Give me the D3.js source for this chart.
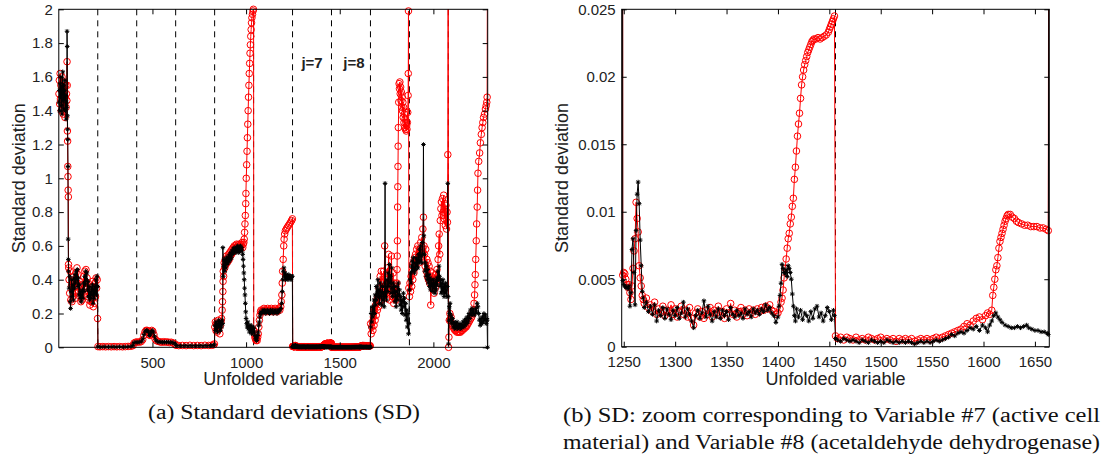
<!DOCTYPE html>
<meta charset="utf-8">
<style>
    body { margin: 0; background: #fff; }
    text { font-family: "Liberation Sans", Arial, Helvetica, sans-serif; fill: #222; }
    .tick text { font-size: 15px; fill: #222; }
    .tick line { stroke: #000; }
    .caption { font-family: "Liberation Serif", "Times New Roman", serif; font-size: 20px; fill: #111; }
</style>
<body>
<svg width="1105" height="460"></svg>
</body>
<script src="https://cdn.jsdelivr.net/npm/d3@7"></script>
<script>

    // variable boundaries (208 samples per variable)
    var boundaries = [208, 416, 624, 832, 1040, 1248, 1456, 1664, 1872, 2080];
    var varLabels = ["j=7", "j=8"];
    var leftXTicks = [500, 1000, 1500, 2000];
    var leftYTicks = [0, 0.2, 0.4, 0.6, 0.8, 1, 1.2, 1.4, 1.6, 1.8, 2];
    var rightXTicks = [1250, 1300, 1350, 1400, 1450, 1500, 1550, 1600, 1650];
    var rightYTicks = [0, 0.005, 0.01, 0.015, 0.02, 0.025];
    var captionA = "(a) Standard deviations (SD)";
    var captionB = ["(b) SD: zoom corresponding to Variable #7 (active cell",
                    "material) and Variable #8 (acetaldehyde dehydrogenase)"];

    // red circles series: [unfolded variable, SD]
    var sdRed = [
        // var 1
        [1,1.50],[3,1.58],[5,1.44],[7,1.62],[9,1.47],[11,1.55],[13,1.40],[15,1.52],[17,1.60],[19,1.45],[21,1.53],[23,1.38],
        [25,1.49],[27,1.57],[29,1.43],[31,1.51],[33,1.36],[35,1.48],[37,1.55],[39,1.42],[41,1.50],[43,1.46],
        [44,1.69],[45,1.55],[46,1.28],[47,1.22],[48,1.07],[49,1.01],[50,0.93],[51,0.89],[52,0.49],[53,0.47],
        [55,0.40],[58,0.32],[61,0.45],[64,0.28],[67,0.36],[70,0.27],[73,0.38],[76,0.30],[79,0.42],[82,0.33],[85,0.40],
        [88,0.29],[91,0.44],[94,0.36],[97,0.47],[100,0.38],[103,0.43],[106,0.33],[109,0.39],[112,0.30],[115,0.35],
        [118,0.27],[121,0.32],[124,0.28],[127,0.37],[130,0.31],[133,0.42],[136,0.35],[139,0.45],[142,0.38],[145,0.46],
        [148,0.36],[151,0.41],[154,0.30],[157,0.38],[160,0.28],[163,0.34],[166,0.25],[169,0.31],[172,0.27],[175,0.36],
        [178,0.29],[181,0.39],[184,0.24],[187,0.33],[190,0.26],[193,0.38],[196,0.30],[199,0.41],[202,0.35],[205,0.40],[207,0.17],
        // var 2-4
        [209,0.004],[220,0.003],[235,0.004],[250,0.003],[265,0.004],[280,0.003],[295,0.004],[310,0.003],[325,0.004],
        [340,0.003],[355,0.004],[370,0.005],[385,0.006],[396,0.010],[402,0.025],[410,0.030],[420,0.032],[430,0.030],
        [440,0.034],[448,0.045],[454,0.070],[460,0.090],[466,0.100],[472,0.100],[478,0.095],[483,0.075],[487,0.070],
        [491,0.085],[496,0.100],[502,0.095],[508,0.075],[514,0.050],[520,0.040],[530,0.035],[540,0.032],[550,0.030],
        [560,0.033],[570,0.030],[580,0.032],[590,0.028],[600,0.030],[610,0.026],[620,0.020],[626,0.012],[640,0.010],
        [660,0.011],[680,0.010],[700,0.012],[720,0.010],[740,0.011],[760,0.010],[780,0.012],[800,0.011],[815,0.012],
        [825,0.014],[831,0.020],
        // var 5
        [833,0.12],[836,0.15],[839,0.10],[842,0.14],[845,0.09],[848,0.13],[851,0.16],[854,0.11],[857,0.14],[860,0.08],
        [863,0.13],[866,0.15],[869,0.17],[872,0.22],[874,0.27],[876,0.33],[877,0.39],[878,0.45],[880,0.42],[883,0.50],
        [886,0.47],[889,0.52],[892,0.49],[895,0.54],[898,0.50],[901,0.53],[904,0.51],[907,0.55],[910,0.52],[913,0.56],
        [916,0.54],[919,0.57],[922,0.55],[925,0.58],[928,0.56],[931,0.59],[934,0.57],[937,0.60],[940,0.58],[943,0.60],
        [946,0.59],[949,0.61],[952,0.58],[955,0.60],[958,0.59],[961,0.61],[964,0.58],[967,0.60],[970,0.59],[973,0.61],
        [976,0.60],[979,0.62],[982,0.59],[985,0.61],[988,0.62],[990,0.64],[992,0.68],[994,0.73],[996,0.78],[998,0.85],
        [999,0.91],[1001,1.00],[1003,1.08],[1005,1.16],[1007,1.24],[1009,1.32],[1011,1.40],[1013,1.48],[1015,1.55],
        [1017,1.62],[1019,1.68],[1021,1.74],[1023,1.79],[1025,1.84],[1027,1.88],[1029,1.92],[1031,1.95],[1034,1.97],
        [1037,1.99],[1039,2.00],[1040,2.05],
        // var 6
        [1041,0.10],[1044,0.08],[1047,0.06],[1050,0.05],[1053,0.04],[1056,0.05],[1059,0.04],[1062,0.06],[1065,0.08],
        [1068,0.12],[1071,0.16],[1074,0.19],[1077,0.21],[1080,0.22],[1085,0.21],[1090,0.22],[1095,0.23],[1100,0.22],
        [1105,0.21],[1110,0.22],[1115,0.23],[1120,0.22],[1125,0.21],[1130,0.22],[1135,0.23],[1140,0.22],[1145,0.21],
        [1150,0.22],[1155,0.23],[1160,0.22],[1165,0.21],[1170,0.22],[1175,0.23],[1180,0.22],[1185,0.24],[1188,0.27],
        [1191,0.31],[1193,0.38],[1195,0.45],[1198,0.52],[1201,0.60],[1203,0.64],[1206,0.67],[1210,0.69],[1215,0.70],
        [1220,0.71],[1226,0.72],[1232,0.73],[1238,0.74],[1243,0.75],[1247,0.76],
        // var 7
        [1249,0.0053],[1250,0.0055],[1251,0.0054],[1252,0.0050],[1253,0.0046],[1254,0.0044],[1255,0.0046],[1256,0.0040],
        [1257,0.0035],[1258,0.0045],[1259,0.0058],[1260,0.0071],[1261,0.0080],[1262,0.0107],[1263,0.0095],[1264,0.0085],
        [1265,0.0060],[1266,0.0051],[1267,0.0045],[1268,0.0038],[1269,0.0035],[1270,0.0032],[1272,0.0036],[1274,0.0029],
        [1276,0.0031],[1278,0.0026],[1280,0.0033],[1282,0.0024],[1284,0.0028],[1286,0.0025],[1288,0.0030],[1290,0.0023],
        [1292,0.0027],[1294,0.0025],[1296,0.0031],[1298,0.0024],[1300,0.0028],[1302,0.0022],[1304,0.0026],[1306,0.0030],
        [1308,0.0024],[1310,0.0027],[1312,0.0022],[1314,0.0029],[1316,0.0021],[1318,0.0016],[1320,0.0025],[1322,0.0028],
        [1324,0.0022],[1326,0.0026],[1328,0.0021],[1330,0.0027],[1332,0.0024],[1334,0.0029],[1336,0.0022],[1338,0.0027],
        [1340,0.0025],[1342,0.0030],[1344,0.0023],[1346,0.0026],[1348,0.0021],[1350,0.0028],[1352,0.0025],[1354,0.0032],
        [1356,0.0024],[1358,0.0027],[1360,0.0022],[1362,0.0026],[1364,0.0029],[1366,0.0024],[1368,0.0027],[1370,0.0023],
        [1372,0.0028],[1374,0.0025],[1376,0.0027],[1378,0.0024],[1380,0.0028],[1382,0.0026],[1384,0.0029],[1386,0.0027],
        [1388,0.0030],[1390,0.0028],[1392,0.0031],[1394,0.0027],[1396,0.0026],[1398,0.0024],[1400,0.0025],[1402,0.0028],
        [1403,0.0033],[1404,0.0036],[1405,0.0042],[1406,0.0051],[1407,0.0058],[1408,0.0065],[1409,0.0073],[1410,0.0080],
        [1411,0.0084],[1412,0.0091],[1413,0.0096],[1414,0.0104],[1415,0.0110],[1416,0.0124],[1417,0.0133],[1418,0.0145],
        [1419,0.0156],[1420,0.0165],[1421,0.0173],[1422,0.0184],[1423,0.0194],[1424,0.0200],[1425,0.0205],[1426,0.0209],
        [1427,0.0212],[1428,0.0215],[1429,0.0218],[1430,0.0220],[1431,0.0222],[1432,0.0224],[1433,0.0226],[1434,0.0227],
        [1435,0.0228],[1437,0.0228],[1439,0.0229],[1441,0.0228],[1443,0.0229],[1445,0.0230],[1447,0.0231],[1449,0.0233],
        [1450,0.0235],[1451,0.0237],[1452,0.0239],[1453,0.0241],[1454,0.0243],[1455,0.0245],
        // var 8
        [1456,0.0008],[1458,0.0006],[1461,0.0007],[1464,0.0005],[1467,0.0007],[1470,0.0006],[1473,0.0005],[1476,0.0007],
        [1479,0.0005],[1482,0.0006],[1485,0.0005],[1488,0.0007],[1491,0.0006],[1494,0.0005],[1497,0.0006],[1500,0.0007],
        [1503,0.0005],[1506,0.0006],[1509,0.0005],[1512,0.0006],[1515,0.0004],[1518,0.0006],[1521,0.0005],[1524,0.0006],
        [1527,0.0005],[1530,0.0006],[1533,0.0004],[1536,0.0005],[1539,0.0006],[1542,0.0005],[1545,0.0006],[1548,0.0005],
        [1551,0.0006],[1554,0.0007],[1557,0.0006],[1560,0.0007],[1563,0.0008],[1566,0.0009],[1569,0.0010],[1572,0.0011],
        [1575,0.0012],[1578,0.0013],[1581,0.0015],[1584,0.0017],[1587,0.0016],[1590,0.0019],[1593,0.0021],[1596,0.0022],
        [1599,0.0020],[1602,0.0023],[1604,0.0025],[1606,0.0024],[1608,0.0027],[1609,0.0038],[1610,0.0044],[1611,0.0050],
        [1612,0.0057],[1613,0.0060],[1614,0.0066],[1615,0.0073],[1616,0.0078],[1617,0.0081],[1618,0.0084],[1619,0.0087],
        [1620,0.0090],[1621,0.0093],[1622,0.0095],[1623,0.0097],[1624,0.0098],[1626,0.0098],[1628,0.0096],[1630,0.0095],
        [1632,0.0093],[1634,0.0092],[1637,0.0091],[1640,0.0090],[1643,0.0090],[1646,0.0089],[1649,0.0089],[1652,0.0089],
        [1655,0.0088],[1658,0.0088],[1661,0.0087],[1663,0.0086],
        // var 9
        [1665,0.14],[1668,0.08],[1671,0.12],[1674,0.15],[1677,0.10],[1680,0.18],[1683,0.13],[1686,0.22],[1689,0.16],
        [1692,0.25],[1695,0.19],[1698,0.28],[1701,0.22],[1704,0.30],[1707,0.24],[1710,0.35],[1713,0.27],[1716,0.42],
        [1719,0.32],[1722,0.45],[1725,0.28],[1728,0.38],[1731,0.30],[1734,0.45],[1737,0.36],[1740,0.60],[1743,0.41],
        [1746,0.33],[1749,0.40],[1752,0.29],[1755,0.47],[1758,0.35],[1761,0.55],[1764,0.38],[1767,0.28],[1770,0.42],
        [1773,0.32],[1776,0.54],[1779,0.38],[1782,0.30],[1785,0.44],[1788,0.26],[1791,0.38],[1794,0.30],[1797,0.36],
        [1800,0.28],[1803,0.33],[1805,0.38],[1806,0.46],[1807,0.54],[1808,0.63],[1809,0.83],[1810,0.95],[1811,1.07],
        [1812,1.19],[1813,1.30],[1815,1.45],[1817,1.56],[1819,1.53],[1821,1.57],[1823,1.50],[1825,1.54],[1827,1.46],
        [1829,1.51],[1831,1.42],[1833,1.48],[1835,1.40],[1837,1.45],[1839,1.36],[1841,1.42],[1843,1.33],[1845,1.38],
        [1847,1.30],[1849,1.35],[1851,1.29],[1853,1.33],[1855,1.28],[1857,1.31],[1859,1.29],[1861,1.33],[1863,1.39],
        [1865,1.49],[1866,1.62],[1867,1.99],[1869,0.35],
        // var 10
        [1872,0.30],[1875,0.38],[1878,0.33],[1881,0.42],[1884,0.36],[1887,0.45],[1890,0.40],[1893,0.50],[1896,0.44],
        [1899,0.53],[1902,0.47],[1905,0.55],[1908,0.50],[1911,0.58],[1914,0.52],[1917,0.60],[1920,0.55],[1923,0.50],
        [1926,0.58],[1929,0.53],[1932,0.62],[1935,0.56],[1938,0.65],[1941,0.59],[1944,0.70],[1947,0.77],[1950,0.60],
        [1953,0.55],[1956,0.48],[1959,0.58],[1962,0.45],[1965,0.52],[1968,0.42],[1971,0.50],[1974,0.40],[1977,0.48],
        [1980,0.38],[1983,0.45],[1986,0.25],[1989,0.42],[1992,0.36],[1995,0.44],[1998,0.34],[2001,0.41],[2004,0.32],
        [2007,0.40],[2010,0.35],[2013,0.43],[2016,0.38],[2019,0.46],[2022,0.40],[2025,0.52],[2028,0.60],[2031,0.67],
        [2034,0.55],[2037,0.75],[2040,0.82],[2043,0.86],[2046,0.78],[2049,0.88],[2052,0.80],[2055,0.90],[2058,0.76],
        [2061,0.85],[2064,0.72],[2067,0.84],[2070,0.70],[2073,0.80],[2075,0.74],[2077,1.14],[2079,2.60],
        // var 11
        [2081,0.00],[2083,0.06],[2085,0.16],[2088,0.20],[2091,0.16],[2094,0.18],[2097,0.14],[2100,0.13],[2105,0.12],
        [2110,0.11],[2115,0.10],[2120,0.10],[2125,0.09],[2130,0.09],[2135,0.09],[2140,0.09],[2145,0.09],[2150,0.10],
        [2155,0.10],[2160,0.11],[2165,0.11],[2170,0.12],[2175,0.12],[2180,0.13],[2185,0.14],[2190,0.15],[2195,0.16],
        [2200,0.17],[2205,0.18],[2210,0.20],[2214,0.22],[2217,0.26],[2220,0.31],[2222,0.37],[2224,0.43],[2226,0.52],
        [2229,0.63],[2231,0.73],[2234,0.83],[2236,0.93],[2238,1.03],[2242,1.10],[2247,1.15],[2251,1.21],[2256,1.26],
        [2260,1.30],[2264,1.33],[2268,1.36],[2273,1.38],[2278,1.41],[2282,1.43],[2285,1.45],[2287,1.48],[2289,2.60]
    ];

    // black stars series: [unfolded variable, SD]
    var sdBlack = [
        // var 1
        [1,1.45],[3,1.52],[5,1.40],[7,1.56],[9,1.48],[11,1.60],[13,1.43],[15,1.54],[17,1.38],[19,1.50],[21,1.63],[23,1.46],
        [25,1.55],[27,1.41],[29,1.52],[31,1.47],[33,1.58],[35,1.40],[37,1.49],[39,1.35],[41,1.45],[43,1.42],
        [44,1.87],[45,1.78],[46,1.37],[47,1.29],[48,1.23],[49,1.07],[50,0.64],[51,0.52],[52,0.45],
        [55,0.35],[58,0.42],[61,0.27],[63,0.23],[66,0.33],[69,0.40],[72,0.30],[75,0.37],[78,0.28],[81,0.41],[84,0.35],
        [87,0.43],[90,0.38],[93,0.45],[96,0.40],[99,0.46],[102,0.36],[105,0.41],[108,0.31],[111,0.37],[114,0.29],
        [117,0.33],[120,0.27],[123,0.31],[126,0.34],[129,0.29],[132,0.38],[135,0.33],[138,0.42],[141,0.37],[144,0.45],
        [147,0.40],[150,0.44],[153,0.34],[156,0.39],[159,0.30],[162,0.36],[165,0.28],[168,0.33],[171,0.29],[174,0.35],
        [177,0.31],[180,0.37],[183,0.26],[186,0.34],[189,0.29],[192,0.36],[195,0.32],[198,0.40],[201,0.31],[204,0.42],[207,0.36],
        // var 2-4
        [209,0.003],[225,0.002],[245,0.003],[265,0.002],[285,0.003],[305,0.002],[325,0.003],[345,0.002],[365,0.003],
        [385,0.005],[396,0.012],[402,0.028],[412,0.030],[422,0.029],[432,0.031],[442,0.036],[449,0.050],[455,0.075],
        [461,0.095],[467,0.100],[473,0.098],[479,0.090],[484,0.070],[488,0.075],[493,0.090],[499,0.100],[505,0.090],
        [511,0.065],[517,0.045],[525,0.035],[535,0.030],[545,0.032],[555,0.029],[565,0.031],[575,0.030],[585,0.031],
        [595,0.028],[605,0.029],[615,0.025],[623,0.018],[630,0.010],[650,0.009],[670,0.010],[690,0.009],[710,0.010],
        [730,0.009],[750,0.010],[770,0.009],[790,0.010],[810,0.011],[825,0.012],[831,0.015],
        // var 5
        [833,0.13],[836,0.10],[839,0.15],[842,0.11],[845,0.14],[848,0.09],[851,0.13],[854,0.16],[857,0.12],[860,0.15],
        [863,0.10],[866,0.14],[869,0.12],[872,0.16],[875,0.14],[876,0.59],[878,0.42],[880,0.48],[883,0.52],[886,0.45],
        [889,0.51],[892,0.47],[895,0.53],[898,0.49],[901,0.52],[904,0.50],[907,0.54],[910,0.51],[913,0.55],[916,0.52],
        [919,0.56],[922,0.53],[925,0.57],[928,0.55],[931,0.58],[934,0.56],[937,0.59],[940,0.57],[943,0.58],[946,0.56],
        [949,0.59],[952,0.57],[955,0.60],[958,0.58],[961,0.56],[964,0.59],[967,0.57],[970,0.60],[973,0.58],[976,0.59],
        [979,0.57],[982,0.55],[984,0.52],[986,0.48],[988,0.44],[990,0.40],[992,0.35],[994,0.31],[996,0.26],[998,0.21],
        [1000,0.17],[1003,0.14],[1006,0.12],[1009,0.15],[1012,0.11],[1015,0.13],[1018,0.09],[1021,0.12],[1024,0.10],
        [1027,0.13],[1030,0.08],[1033,0.11],[1036,0.09],[1039,0.12],
        // var 6
        [1041,0.11],[1044,0.09],[1047,0.07],[1050,0.05],[1053,0.06],[1056,0.04],[1059,0.05],[1062,0.07],[1065,0.09],
        [1068,0.13],[1071,0.15],[1074,0.18],[1077,0.20],[1080,0.21],[1085,0.20],[1090,0.22],[1095,0.21],[1100,0.22],
        [1105,0.20],[1110,0.21],[1115,0.22],[1120,0.21],[1125,0.20],[1130,0.22],[1135,0.21],[1140,0.22],[1145,0.20],
        [1150,0.21],[1155,0.22],[1160,0.21],[1165,0.20],[1170,0.22],[1175,0.21],[1180,0.22],[1185,0.23],[1190,0.26],
        [1193,0.33],[1196,0.40],[1199,0.45],[1202,0.47],[1205,0.42],[1208,0.44],[1211,0.40],[1214,0.43],[1217,0.41],
        [1220,0.42],[1224,0.40],[1228,0.43],[1232,0.41],[1236,0.42],[1240,0.40],[1244,0.42],[1247,0.42],
        // var 7
        [1249,0.0049],[1250,0.0046],[1251,0.0045],[1252,0.0044],[1253,0.0044],[1254,0.0043],[1255,0.0045],[1256,0.0030],
        [1257,0.0040],[1258,0.0072],[1259,0.0080],[1260,0.0055],[1261,0.0031],[1262,0.0086],[1263,0.0113],[1264,0.0122],
        [1265,0.0106],[1266,0.0079],[1267,0.0060],[1268,0.0041],[1269,0.0036],[1270,0.0029],[1272,0.0033],[1274,0.0026],
        [1276,0.0030],[1278,0.0024],[1280,0.0031],[1282,0.0019],[1284,0.0027],[1286,0.0023],[1288,0.0029],[1290,0.0021],
        [1292,0.0028],[1294,0.0024],[1296,0.0020],[1298,0.0027],[1300,0.0023],[1302,0.0029],[1304,0.0021],[1306,0.0025],
        [1308,0.0033],[1310,0.0022],[1312,0.0028],[1314,0.0024],[1316,0.0019],[1318,0.0014],[1320,0.0023],[1322,0.0027],
        [1324,0.0021],[1326,0.0025],[1328,0.0034],[1330,0.0022],[1332,0.0030],[1334,0.0024],[1336,0.0019],[1338,0.0026],
        [1340,0.0022],[1342,0.0028],[1344,0.0021],[1346,0.0027],[1348,0.0023],[1350,0.0026],[1352,0.0020],[1354,0.0029],
        [1356,0.0024],[1358,0.0022],[1360,0.0027],[1362,0.0023],[1364,0.0025],[1366,0.0021],[1368,0.0028],[1370,0.0024],
        [1372,0.0026],[1374,0.0022],[1376,0.0028],[1378,0.0025],[1380,0.0027],[1382,0.0024],[1384,0.0028],[1386,0.0026],
        [1388,0.0031],[1390,0.0027],[1392,0.0029],[1394,0.0025],[1396,0.0023],[1398,0.0018],[1400,0.0022],[1401,0.0030],
        [1402,0.0038],[1403,0.0047],[1404,0.0061],[1405,0.0058],[1406,0.0055],[1407,0.0054],[1408,0.0057],[1409,0.0052],
        [1410,0.0060],[1411,0.0058],[1412,0.0055],[1413,0.0050],[1414,0.0039],[1415,0.0030],[1416,0.0023],[1417,0.0019],
        [1418,0.0028],[1420,0.0022],[1422,0.0027],[1424,0.0020],[1426,0.0025],[1428,0.0023],[1430,0.0019],[1432,0.0026],
        [1434,0.0021],[1436,0.0028],[1438,0.0030],[1440,0.0022],[1442,0.0025],[1444,0.0019],[1446,0.0023],[1448,0.0029],
        [1450,0.0026],[1452,0.0020],[1454,0.0027],[1455,0.0023],
        // var 8
        [1456,0.0006],[1458,0.0005],[1461,0.0004],[1464,0.0006],[1467,0.0005],[1470,0.0004],[1473,0.0005],[1476,0.0004],
        [1479,0.0003],[1482,0.0005],[1485,0.0004],[1488,0.0003],[1491,0.0005],[1494,0.0004],[1497,0.0003],[1500,0.0004],
        [1503,0.0003],[1506,0.0005],[1509,0.0004],[1512,0.0003],[1515,0.0004],[1518,0.0003],[1521,0.0004],[1524,0.0003],
        [1527,0.0004],[1530,0.0003],[1533,0.0002],[1536,0.0003],[1539,0.0004],[1542,0.0003],[1545,0.0004],[1548,0.0003],
        [1551,0.0004],[1554,0.0005],[1557,0.0004],[1560,0.0005],[1563,0.0006],[1566,0.0007],[1569,0.0009],[1572,0.0008],
        [1575,0.0010],[1578,0.0011],[1581,0.0010],[1584,0.0012],[1587,0.0014],[1590,0.0013],[1593,0.0015],[1596,0.0012],
        [1599,0.0016],[1602,0.0014],[1604,0.0011],[1606,0.0016],[1608,0.0019],[1610,0.0023],[1612,0.0025],[1614,0.0022],
        [1616,0.0020],[1618,0.0018],[1621,0.0016],[1624,0.0015],[1627,0.0014],[1630,0.0014],[1633,0.0015],[1636,0.0014],
        [1639,0.0015],[1642,0.0016],[1644,0.0014],[1647,0.0013],[1650,0.0012],[1653,0.0012],[1656,0.0011],[1659,0.0011],
        [1662,0.0010],[1663,0.0009],
        // var 9
        [1665,0.12],[1668,0.20],[1671,0.15],[1674,0.24],[1677,0.18],[1680,0.22],[1683,0.28],[1686,0.20],[1689,0.31],
        [1692,0.25],[1695,0.36],[1698,0.28],[1701,0.32],[1704,0.40],[1707,0.30],[1710,0.34],[1713,0.26],[1716,0.38],
        [1719,0.30],[1722,0.33],[1725,0.25],[1728,0.36],[1731,0.28],[1734,0.32],[1737,0.24],[1740,0.38],[1742,0.97],
        [1744,0.30],[1747,0.36],[1750,0.28],[1753,0.40],[1756,0.33],[1759,0.44],[1762,0.36],[1765,0.49],[1768,0.38],
        [1771,0.42],[1774,0.32],[1777,0.47],[1780,0.35],[1783,0.30],[1786,0.38],[1789,0.32],[1792,0.36],[1795,0.27],
        [1798,0.33],[1801,0.24],[1804,0.30],[1807,0.36],[1810,0.28],[1813,0.38],[1816,0.31],[1819,0.34],[1822,0.25],
        [1825,0.30],[1828,0.22],[1831,0.28],[1834,0.20],[1837,0.27],[1840,0.32],[1843,0.24],[1846,0.29],[1849,0.19],
        [1852,0.26],[1855,0.16],[1858,0.22],[1861,0.12],[1864,0.20],[1867,0.08],[1869,0.14],
        // var 10
        [1872,0.34],[1875,0.40],[1878,0.44],[1881,0.38],[1884,0.48],[1887,0.51],[1890,0.45],[1893,0.53],[1896,0.47],
        [1899,0.44],[1902,0.50],[1905,0.46],[1908,0.53],[1911,0.48],[1914,0.52],[1917,0.47],[1920,0.55],[1923,0.50],
        [1926,0.58],[1929,0.51],[1932,0.60],[1935,0.54],[1938,0.50],[1941,0.62],[1944,0.55],[1947,1.20],[1949,0.66],
        [1952,0.55],[1955,0.45],[1958,0.50],[1961,0.42],[1964,0.48],[1967,0.40],[1970,0.46],[1973,0.38],[1976,0.43],
        [1979,0.36],[1982,0.41],[1985,0.34],[1988,0.40],[1991,0.36],[1994,0.38],[1997,0.33],[2000,0.40],[2003,0.35],
        [2006,0.37],[2009,0.32],[2012,0.39],[2015,0.34],[2018,0.41],[2021,0.37],[2024,0.45],[2027,0.40],[2030,0.48],
        [2033,0.42],[2036,0.36],[2039,0.40],[2042,0.32],[2045,0.38],[2048,0.33],[2051,0.40],[2054,0.35],[2057,0.30],
        [2060,0.37],[2063,0.32],[2066,0.38],[2069,0.34],[2072,0.30],[2075,0.36],[2077,0.97],[2079,0.30],
        // var 11
        [2081,0.02],[2083,0.16],[2085,0.24],[2087,0.20],[2089,0.26],[2092,0.16],[2095,0.19],[2098,0.14],[2102,0.17],
        [2106,0.12],[2110,0.15],[2114,0.11],[2118,0.14],[2122,0.12],[2126,0.15],[2130,0.11],[2134,0.13],[2138,0.12],
        [2142,0.14],[2146,0.11],[2150,0.13],[2154,0.12],[2158,0.15],[2162,0.12],[2166,0.16],[2170,0.13],[2174,0.17],
        [2178,0.14],[2182,0.18],[2186,0.15],[2190,0.20],[2194,0.17],[2198,0.22],[2202,0.19],[2206,0.23],[2210,0.20],
        [2214,0.22],[2218,0.19],[2222,0.20],[2226,0.23],[2230,0.21],[2234,0.26],[2238,0.24],[2242,0.20],[2246,0.16],
        [2250,0.13],[2254,0.17],[2258,0.14],[2262,0.18],[2266,0.15],[2270,0.20],[2274,0.16],[2278,0.19],[2282,0.14],
        [2285,0.17],[2287,0.16],[2289,0.00]
    ];

    sdRed.sort(function (a, b) { return a[0] - b[0]; });
    sdBlack.sort(function (a, b) { return a[0] - b[0]; });

    var svg = d3.select('svg');
    var fmtY = d3.format("~g");
    var starPath = "M-2.3,0H2.3M0,-2.3V2.3M-1.6,-1.6L1.6,1.6M-1.6,1.6L1.6,-1.6";

    function drawPanel(p) {
        var x = d3.scaleLinear().domain(p.xDomain).range([p.left, p.right]);
        var y = d3.scaleLinear().domain(p.yDomain).range([p.bottom, p.top]);
        var g = svg.append('g');
        var clipId = 'clip-' + p.name;

        svg.append('clipPath').attr('id', clipId)
            .append('rect')
            .attr('x', p.left).attr('y', p.top)
            .attr('width', p.right - p.left).attr('height', p.bottom - p.top);

        // dashed lines between variables
        g.append('g').selectAll('line')
            .data(boundaries.filter(function (b) { return b > p.xDomain[0] && b < p.xDomain[1]; }))
            .enter().append('line')
            .attr('x1', function (d) { return x(d); })
            .attr('x2', function (d) { return x(d); })
            .attr('y1', p.top).attr('y2', p.bottom)
            .style('stroke', '#000')
            .style('stroke-width', 1)
            .style('stroke-dasharray', '6,5');

        function inside(d) {
            return d[0] >= p.xDomain[0] && d[0] <= p.xDomain[1] && d[1] <= p.yDomain[1];
        }

        var line = d3.line().x(function (d) { return x(d[0]); }).y(function (d) { return y(d[1]); });

        function series(data, color) {
            var pts = data.filter(function (d) { return d[0] >= p.xDomain[0] - 4 && d[0] <= p.xDomain[1] + 4; });
            g.append('path').datum(pts)
                .attr('clip-path', 'url(#' + clipId + ')')
                .attr('d', line)
                .style('fill', 'none')
                .style('stroke', color)
                .style('stroke-width', 1);
            return pts.filter(inside);
        }

        var redPts = series(sdRed, '#ff0000');
        g.append('g').selectAll('circle').data(redPts).enter().append('circle')
            .attr('cx', function (d) { return x(d[0]); })
            .attr('cy', function (d) { return y(d[1]); })
            .attr('r', 3.3)
            .style('fill', 'none')
            .style('stroke', '#ff0000')
            .style('stroke-width', 1);

        var blackPts = series(sdBlack, '#000');
        g.append('g').selectAll('path').data(blackPts).enter().append('path')
            .attr('d', starPath)
            .attr('transform', function (d) { return 'translate(' + x(d[0]) + ',' + y(d[1]) + ')'; })
            .style('fill', 'none')
            .style('stroke', '#000')
            .style('stroke-width', 1);

        // axes, ticks pointing inward
        var ax = g.append('g');
        ax.append('g').attr('transform', 'translate(0,' + p.bottom + ')')
            .call(d3.axisBottom(x).tickValues(p.xTicks).tickSizeInner(-5).tickSizeOuter(0).tickPadding(10).tickFormat(d3.format('d')));
        ax.append('g').attr('transform', 'translate(0,' + p.top + ')')
            .call(d3.axisTop(x).tickValues(p.xTicks).tickSizeInner(-5).tickSizeOuter(0).tickFormat(''));
        ax.append('g').attr('transform', 'translate(' + p.left + ',0)')
            .call(d3.axisLeft(y).tickValues(p.yTicks).tickSizeInner(-5).tickSizeOuter(0).tickPadding(6).tickFormat(fmtY));
        ax.append('g').attr('transform', 'translate(' + p.right + ',0)')
            .call(d3.axisRight(y).tickValues(p.yTicks).tickSizeInner(-5).tickSizeOuter(0).tickFormat(''));
        ax.selectAll('.domain').remove();
        ax.selectAll('.tick text').style('font-family', '"Liberation Sans", Arial, sans-serif').style('font-size', '15px');

        g.append('rect')
            .attr('x', p.left).attr('y', p.top)
            .attr('width', p.right - p.left).attr('height', p.bottom - p.top)
            .style('fill', 'none').style('stroke', '#000').style('stroke-width', 1);

        g.append('text')
            .attr('transform', 'translate(' + p.yLabelX + ',' + ((p.top + p.bottom) / 2) + ') rotate(-90)')
            .attr('text-anchor', 'middle')
            .style('font-size', '18px')
            .text('Standard deviation');
        g.append('text')
            .attr('x', (p.left + p.right) / 2).attr('y', 385)
            .attr('text-anchor', 'middle')
            .style('font-size', '18px')
            .text('Unfolded variable');

        return {x: x, y: y, g: g};
    }

    var left = drawPanel({
        name: 'a', left: 58.8, right: 487.7, top: 9.3, bottom: 347.3,
        xDomain: [0, 2290], yDomain: [0, 2],
        xTicks: leftXTicks, yTicks: leftYTicks, yLabelX: 25
    });

    // variable labels inside the overview panel
    left.g.selectAll('text.jlab').data(varLabels).enter().append('text')
        .attr('class', 'jlab')
        .attr('x', function (d, i) { return left.x(boundaries[5 + i] + 104) + i * 3; })
        .attr('y', left.y(1.65))
        .attr('text-anchor', 'middle')
        .style('font-size', '15px')
        .style('font-weight', 'bold')
        .text(function (d) { return d; });

    drawPanel({
        name: 'b', left: 621.7, right: 1049.3, top: 9.3, bottom: 346.7,
        xDomain: [1248, 1664], yDomain: [0, 0.025],
        xTicks: rightXTicks, yTicks: rightYTicks, yLabelX: 568
    });

    // captions
    svg.append('text').attr('class', 'caption')
        .attr('x', 148).attr('y', 419)
        .attr('textLength', 272).attr('lengthAdjust', 'spacingAndGlyphs')
        .text(captionA);
    svg.selectAll('text.capb').data(captionB).enter().append('text')
        .attr('class', 'caption capb')
        .attr('x', 563).attr('y', function (d, i) { return 422 + i * 27; })
        .attr('textLength', 537).attr('lengthAdjust', 'spacingAndGlyphs')
        .text(function (d) { return d; });

</script>
</html>
